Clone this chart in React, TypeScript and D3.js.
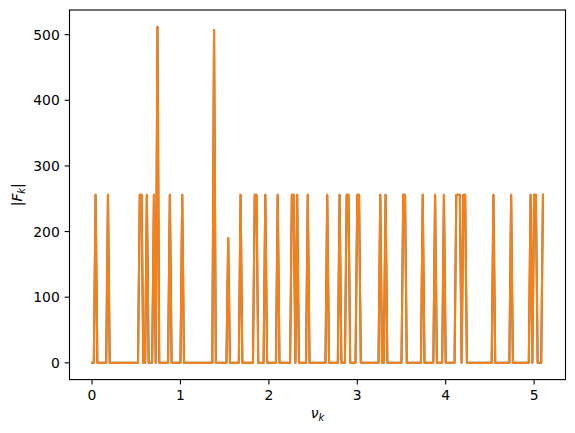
import React from 'react';
import * as d3 from 'd3';

// Frequency grid (bins of the transform)
const BIN_WIDTH = 0.02;
const BIN_COUNT = 256;

// Non-zero spectral lines (frequency, magnitude)
const SPIKE_FREQS = [
  0.04, 0.18, 0.54, 0.56, 0.62, 0.7, 0.74, 0.88, 1.02, 1.38, 1.54, 1.68, 1.84, 1.86,
  1.96, 2.1, 2.26, 2.28, 2.32, 2.44, 2.66, 2.8, 2.88, 2.9, 3.0, 3.02, 3.26, 3.32,
  3.52, 3.54, 3.74, 3.88, 3.98, 4.12, 4.14, 4.16, 4.2, 4.22, 4.54, 4.74, 4.96, 5.0,
  5.02, 5.1,
];
const SPIKE_MAGS = [
  256, 256, 256, 256, 256, 256, 512, 256, 256, 507, 190, 256, 256, 256,
  256, 256, 256, 256, 256, 256, 256, 256, 256, 256, 256, 256, 256, 256,
  256, 256, 256, 256, 256, 256, 256, 256, 256, 256, 256, 256, 256, 256,
  256, 256,
];

const SERIES_COLORS = ['#1f77b4', '#ff7f0e'];
const X_TICKS = [0, 1, 2, 3, 4, 5];
const Y_TICKS = [0, 100, 200, 300, 400, 500];

const W = 575;
const H = 433;
const FRAME = { left: 69.5, right: 565.5, top: 10, bottom: 379.6 };
const FONT = '"DejaVu Sans", sans-serif';
const FS = 13.9;

function buildSpectrum() {
  const bins = d3.range(BIN_COUNT).map((k) => ({ nu: k * BIN_WIDTH, mag: 0 }));
  SPIKE_FREQS.forEach((f, i) => {
    const k = Math.round(f / BIN_WIDTH);
    if (k >= 0 && k < BIN_COUNT) bins[k].mag = SPIKE_MAGS[i];
  });
  return bins;
}

export default function App() {
  const data = buildSpectrum();
  const xExt = d3.extent(data, (d) => d.nu) as [number, number];
  const yExt = d3.extent(data, (d) => d.mag) as [number, number];
  const xPad = (xExt[1] - xExt[0]) * 0.05;
  const yPad = (yExt[1] - yExt[0]) * 0.05;
  const x = d3.scaleLinear().domain([xExt[0] - xPad, xExt[1] + xPad]).range([FRAME.left, FRAME.right]);
  const y = d3.scaleLinear().domain([yExt[0] - yPad, yExt[1] + yPad]).range([FRAME.bottom, FRAME.top]);
  const line = d3
    .line<{ nu: number; mag: number }>()
    .x((d) => x(d.nu))
    .y((d) => y(d.mag));
  const path = line(data) || '';
  const tickLen = 4.86;
  const tickPad = 4.86;

  return (
    <svg
      width={W}
      height={H}
      viewBox={`0 0 ${W} ${H}`}
      style={{ position: 'absolute', left: 0, top: 0, background: '#fff' }}
      fontFamily={FONT}
    >
      <rect x={0} y={0} width={W} height={H} fill="#fff" />
      <defs>
        <clipPath id="plotclip">
          <rect x={FRAME.left} y={FRAME.top} width={FRAME.right - FRAME.left} height={FRAME.bottom - FRAME.top} />
        </clipPath>
      </defs>
      <g clipPath="url(#plotclip)">
        {SERIES_COLORS.map((c) => (
          <path key={c} d={path} fill="none" stroke={c} strokeWidth={2.08} strokeLinejoin="round" strokeLinecap="square" />
        ))}
      </g>
      <rect
        x={FRAME.left}
        y={FRAME.top}
        width={FRAME.right - FRAME.left}
        height={FRAME.bottom - FRAME.top}
        fill="none"
        stroke="#000"
        strokeWidth={1.11}
      />
      {X_TICKS.map((t) => (
        <g key={'x' + t}>
          <line x1={x(t)} x2={x(t)} y1={FRAME.bottom} y2={FRAME.bottom + tickLen} stroke="#000" strokeWidth={1.11} />
          <text x={x(t)} y={FRAME.bottom + tickLen + tickPad + 10.6} textAnchor="middle" fontSize={FS} fill="#000">
            {t}
          </text>
        </g>
      ))}
      {Y_TICKS.map((t) => (
        <g key={'y' + t}>
          <line x1={FRAME.left - tickLen} x2={FRAME.left} y1={y(t)} y2={y(t)} stroke="#000" strokeWidth={1.11} />
          <text x={FRAME.left - tickLen - tickPad} y={y(t) + 5} textAnchor="end" fontSize={FS} fill="#000">
            {t}
          </text>
        </g>
      ))}
      <text x={(FRAME.left + FRAME.right) / 2} y={418} textAnchor="middle" fontSize={FS} fill="#000">
        <tspan fontStyle="italic">ν</tspan>
        <tspan fontStyle="italic" fontSize={FS * 0.7} dy={3}>k</tspan>
      </text>
      <text
        transform={`translate(22, ${(FRAME.top + FRAME.bottom) / 2}) rotate(-90)`}
        textAnchor="middle"
        fontSize={FS}
        fill="#000"
      >
        <tspan>|</tspan>
        <tspan fontStyle="italic">F</tspan>
        <tspan fontStyle="italic" fontSize={FS * 0.7} dy={3}>k</tspan>
        <tspan dy={-3}>|</tspan>
      </text>
    </svg>
  );
}
